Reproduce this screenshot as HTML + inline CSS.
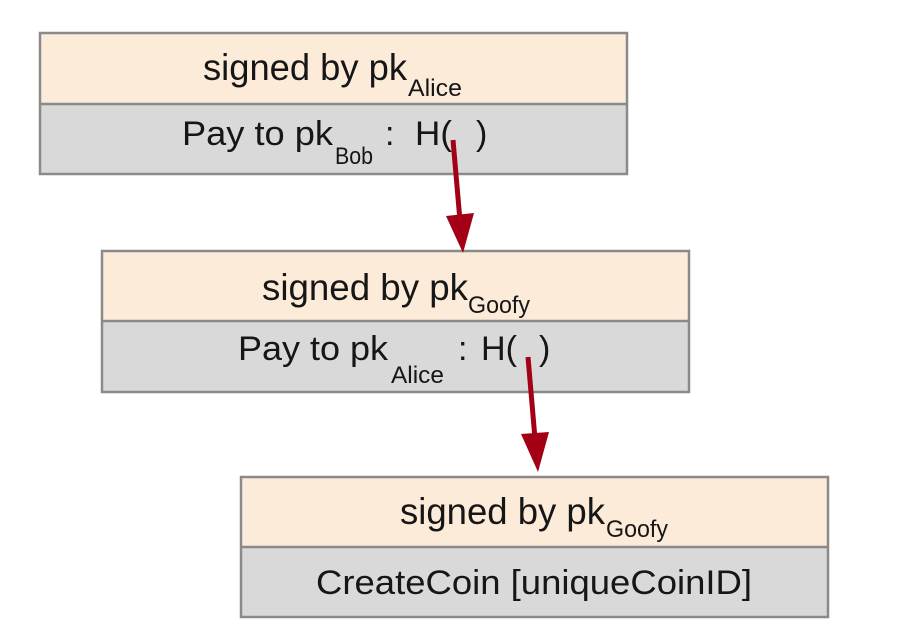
<!DOCTYPE html>
<html>
<head>
<meta charset="utf-8">
<style>
  html, body { margin:0; padding:0; background:#ffffff; }
  body { width:901px; height:634px; overflow:hidden; }
  svg { display:block; }
  text { font-family: "Liberation Sans", "DejaVu Sans", sans-serif; fill:#161616; }
</style>
</head>
<body>
<svg width="901" height="634" viewBox="0 0 901 634" xmlns="http://www.w3.org/2000/svg">
  <rect x="0" y="0" width="901" height="634" fill="#ffffff"/>

  <!-- Box 1 -->
  <rect x="40" y="33" width="587" height="71" fill="#fcebd9"/>
  <rect x="40" y="104" width="587" height="70" fill="#d9d9d9"/>
  <rect x="40" y="33" width="587" height="141" fill="none" stroke="#8a8a8a" stroke-width="2.5"/>
  <line x1="40" y1="104" x2="627" y2="104" stroke="#8a8a8a" stroke-width="2.5"/>
  <text x="203" y="80" font-size="37" textLength="204" lengthAdjust="spacingAndGlyphs">signed by pk</text>
  <text x="408" y="96" font-size="24" textLength="54" lengthAdjust="spacingAndGlyphs">Alice</text>
  <text x="182" y="145" font-size="34" textLength="151" lengthAdjust="spacingAndGlyphs">Pay to pk</text>
  <text x="335" y="164" font-size="24" textLength="38" lengthAdjust="spacingAndGlyphs">Bob</text>
  <text x="385" y="145" font-size="34">:</text>
  <text x="415" y="145" font-size="34" textLength="37" lengthAdjust="spacingAndGlyphs">H(</text>
  <text x="476" y="145" font-size="34">)</text>

  <!-- Box 2 -->
  <rect x="102" y="251" width="587" height="70" fill="#fcebd9"/>
  <rect x="102" y="321" width="587" height="71" fill="#d9d9d9"/>
  <rect x="102" y="251" width="587" height="141" fill="none" stroke="#8a8a8a" stroke-width="2.5"/>
  <line x1="102" y1="321" x2="689" y2="321" stroke="#8a8a8a" stroke-width="2.5"/>
  <text x="262" y="300" font-size="37" textLength="206" lengthAdjust="spacingAndGlyphs">signed by pk</text>
  <text x="468" y="313" font-size="24" textLength="62" lengthAdjust="spacingAndGlyphs">Goofy</text>
  <text x="238" y="360" font-size="34" textLength="150" lengthAdjust="spacingAndGlyphs">Pay to pk</text>
  <text x="391" y="383" font-size="24" textLength="53" lengthAdjust="spacingAndGlyphs">Alice</text>
  <text x="458" y="360" font-size="34">:</text>
  <text x="481" y="360" font-size="34" textLength="36" lengthAdjust="spacingAndGlyphs">H(</text>
  <text x="539" y="360" font-size="34">)</text>

  <!-- Box 3 -->
  <rect x="241" y="477" width="587" height="70" fill="#fcebd9"/>
  <rect x="241" y="547" width="587" height="70" fill="#d9d9d9"/>
  <rect x="241" y="477" width="587" height="140" fill="none" stroke="#8a8a8a" stroke-width="2.5"/>
  <line x1="241" y1="547" x2="828" y2="547" stroke="#8a8a8a" stroke-width="2.5"/>
  <text x="400" y="524" font-size="37" textLength="205" lengthAdjust="spacingAndGlyphs">signed by pk</text>
  <text x="606" y="537" font-size="24" textLength="62" lengthAdjust="spacingAndGlyphs">Goofy</text>
  <text x="316" y="594" font-size="34" textLength="436" lengthAdjust="spacingAndGlyphs">CreateCoin [uniqueCoinID]</text>

  <!-- Arrow 1 -->
  <line x1="453" y1="140" x2="459.6" y2="216" stroke="#a30015" stroke-width="5" stroke-linecap="butt"/>
  <polygon points="446,216 474,213 463,253" fill="#a30015"/>

  <!-- Arrow 2 -->
  <line x1="528" y1="357" x2="534.6" y2="434" stroke="#a30015" stroke-width="5" stroke-linecap="butt"/>
  <polygon points="521,434 549,432 538,472" fill="#a30015"/>
</svg>
</body>
</html>
